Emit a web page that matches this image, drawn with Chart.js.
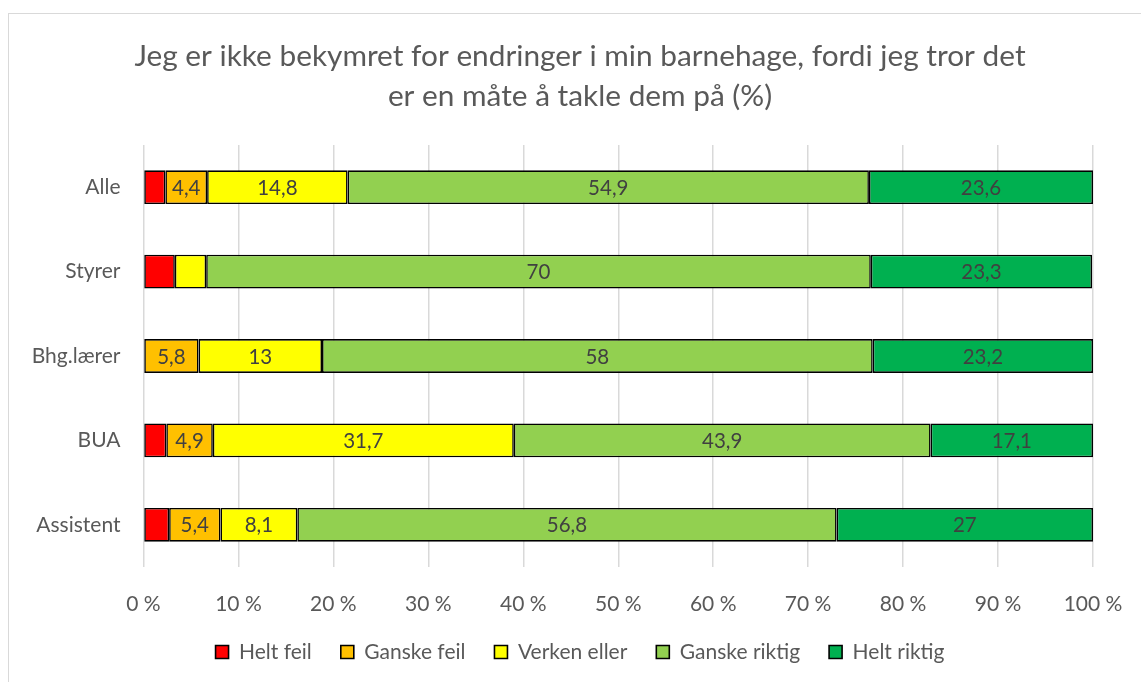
<!DOCTYPE html>
<html>
<head>
<meta charset="utf-8">
<script src="https://cdn.jsdelivr.net/npm/chart.js@4.4.0/dist/chart.umd.min.js"></script>
<style>
  html, body { margin: 0; padding: 0; background: #fff; overflow: hidden; width: 1141px; height: 682px; }
  #frame { position: absolute; left: 8px; top: 13px; width: 1144px; height: 700px; border: 1px solid #d9d9d9; box-sizing: border-box; }
  #wrap { position: absolute; left: 8px; top: 13px; width: 1144px; height: 690px; }
</style>
</head>
<body>
<div id="frame"></div>
<div id="wrap"><canvas id="chart"></canvas></div>
<script>
const categories = ["Alle", "Styrer", "Bhg.lærer", "BUA", "Assistent"];
const seriesNames = ["Helt feil", "Ganske feil", "Verken eller", "Ganske riktig", "Helt riktig"];
const heltFeil = [2.3, 3.3, 0, 2.4, 2.7];
const ganskeFeil = [4.4, 0, 5.8, 4.9, 5.4];
const verkenEller = [14.8, 3.3, 13, 31.7, 8.1];
const ganskeRiktig = [54.9, 70, 58, 43.9, 56.8];
const heltRiktig = [23.6, 23.3, 23.2, 17.1, 27];
const colors = ["#ff0000", "#ffc000", "#ffff00", "#92d050", "#00b050"];

const FONT = "Lato, 'Open Sans', sans-serif";
const TEXT = "#595959";

// numbers inside the segments (skip the narrow ones)
const segmentLabels = {
  id: "segmentLabels",
  afterDatasetsDraw(chart) {
    const ctx = chart.ctx;
    ctx.save();
    ctx.font = "20.5px " + FONT;
    ctx.fillStyle = "#404040";
    ctx.textAlign = "center";
    ctx.textBaseline = "middle";
    chart.data.datasets.forEach((ds, i) => {
      chart.getDatasetMeta(i).data.forEach((bar, j) => {
        const v = ds.data[j];
        if (v < 4) return;
        ctx.fillText(String(v).replace(".", ","), (bar.x + bar.base) / 2, bar.y + 1);
      });
    });
    ctx.restore();
  }
};

const allSeries = [heltFeil, ganskeFeil, verkenEller, ganskeRiktig, heltRiktig];

new Chart(document.getElementById("chart"), {
  type: "bar",
  data: {
    labels: categories,
    datasets: allSeries.map((d, i) => ({
      label: seriesNames[i],
      data: d,
      backgroundColor: colors[i],
      borderColor: "#000000",
      borderWidth: 1.6,
      borderSkipped: false,
      categoryPercentage: 1,
      barPercentage: 0.4
    }))
  },
  options: {
    indexAxis: "y",
    responsive: true,
    maintainAspectRatio: false,
    animation: false,
    devicePixelRatio: 1,
    layout: { padding: { left: 0, right: 0, top: 0, bottom: 30.5 } },
    plugins: {
      title: {
        display: true,
        text: ["Jeg er ikke bekymret for endringer i min barnehage, fordi jeg tror det", "er en måte å takle dem på (%)"],
        color: TEXT,
        font: { family: FONT, size: 29.8, weight: "normal", lineHeight: 40 / 29.8 },
        padding: { top: 23.5, bottom: 28.5 }
      },
      legend: {
        position: "bottom",
        labels: {
          color: TEXT,
          font: { family: FONT, size: 21 },
          boxWidth: 13,
          boxHeight: 13,
          padding: 29
        }
      },
      tooltip: { enabled: false }
    },
    scales: {
      x: {
        stacked: true,
        min: 0,
        max: 100,
        ticks: {
          stepSize: 10,
          color: TEXT,
          font: { family: FONT, size: 21 },
          padding: 24.5,
          callback: v => v + " %"
        },
        grid: { color: "#d9d9d9", lineWidth: 1.5, drawTicks: false },
        border: { display: false },
        afterFit: s => { s.height = 45.5; }
      },
      y: {
        stacked: true,
        ticks: {
          color: TEXT,
          font: { family: FONT, size: 21 },
          padding: 23
        },
        grid: { display: false, drawTicks: false },
        border: { display: false },
        afterFit: s => { s.width = 135.5; }
      },
      // empty right-hand axis, only keeps the right margin so title and legend stay centred on the frame
      yRight: {
        axis: "y",
        position: "right",
        ticks: { display: false },
        grid: { display: false, drawTicks: false },
        border: { display: false },
        afterFit: s => { s.width = 59; }
      }
    }
  },
  plugins: [segmentLabels]
});
</script>
</body>
</html>
